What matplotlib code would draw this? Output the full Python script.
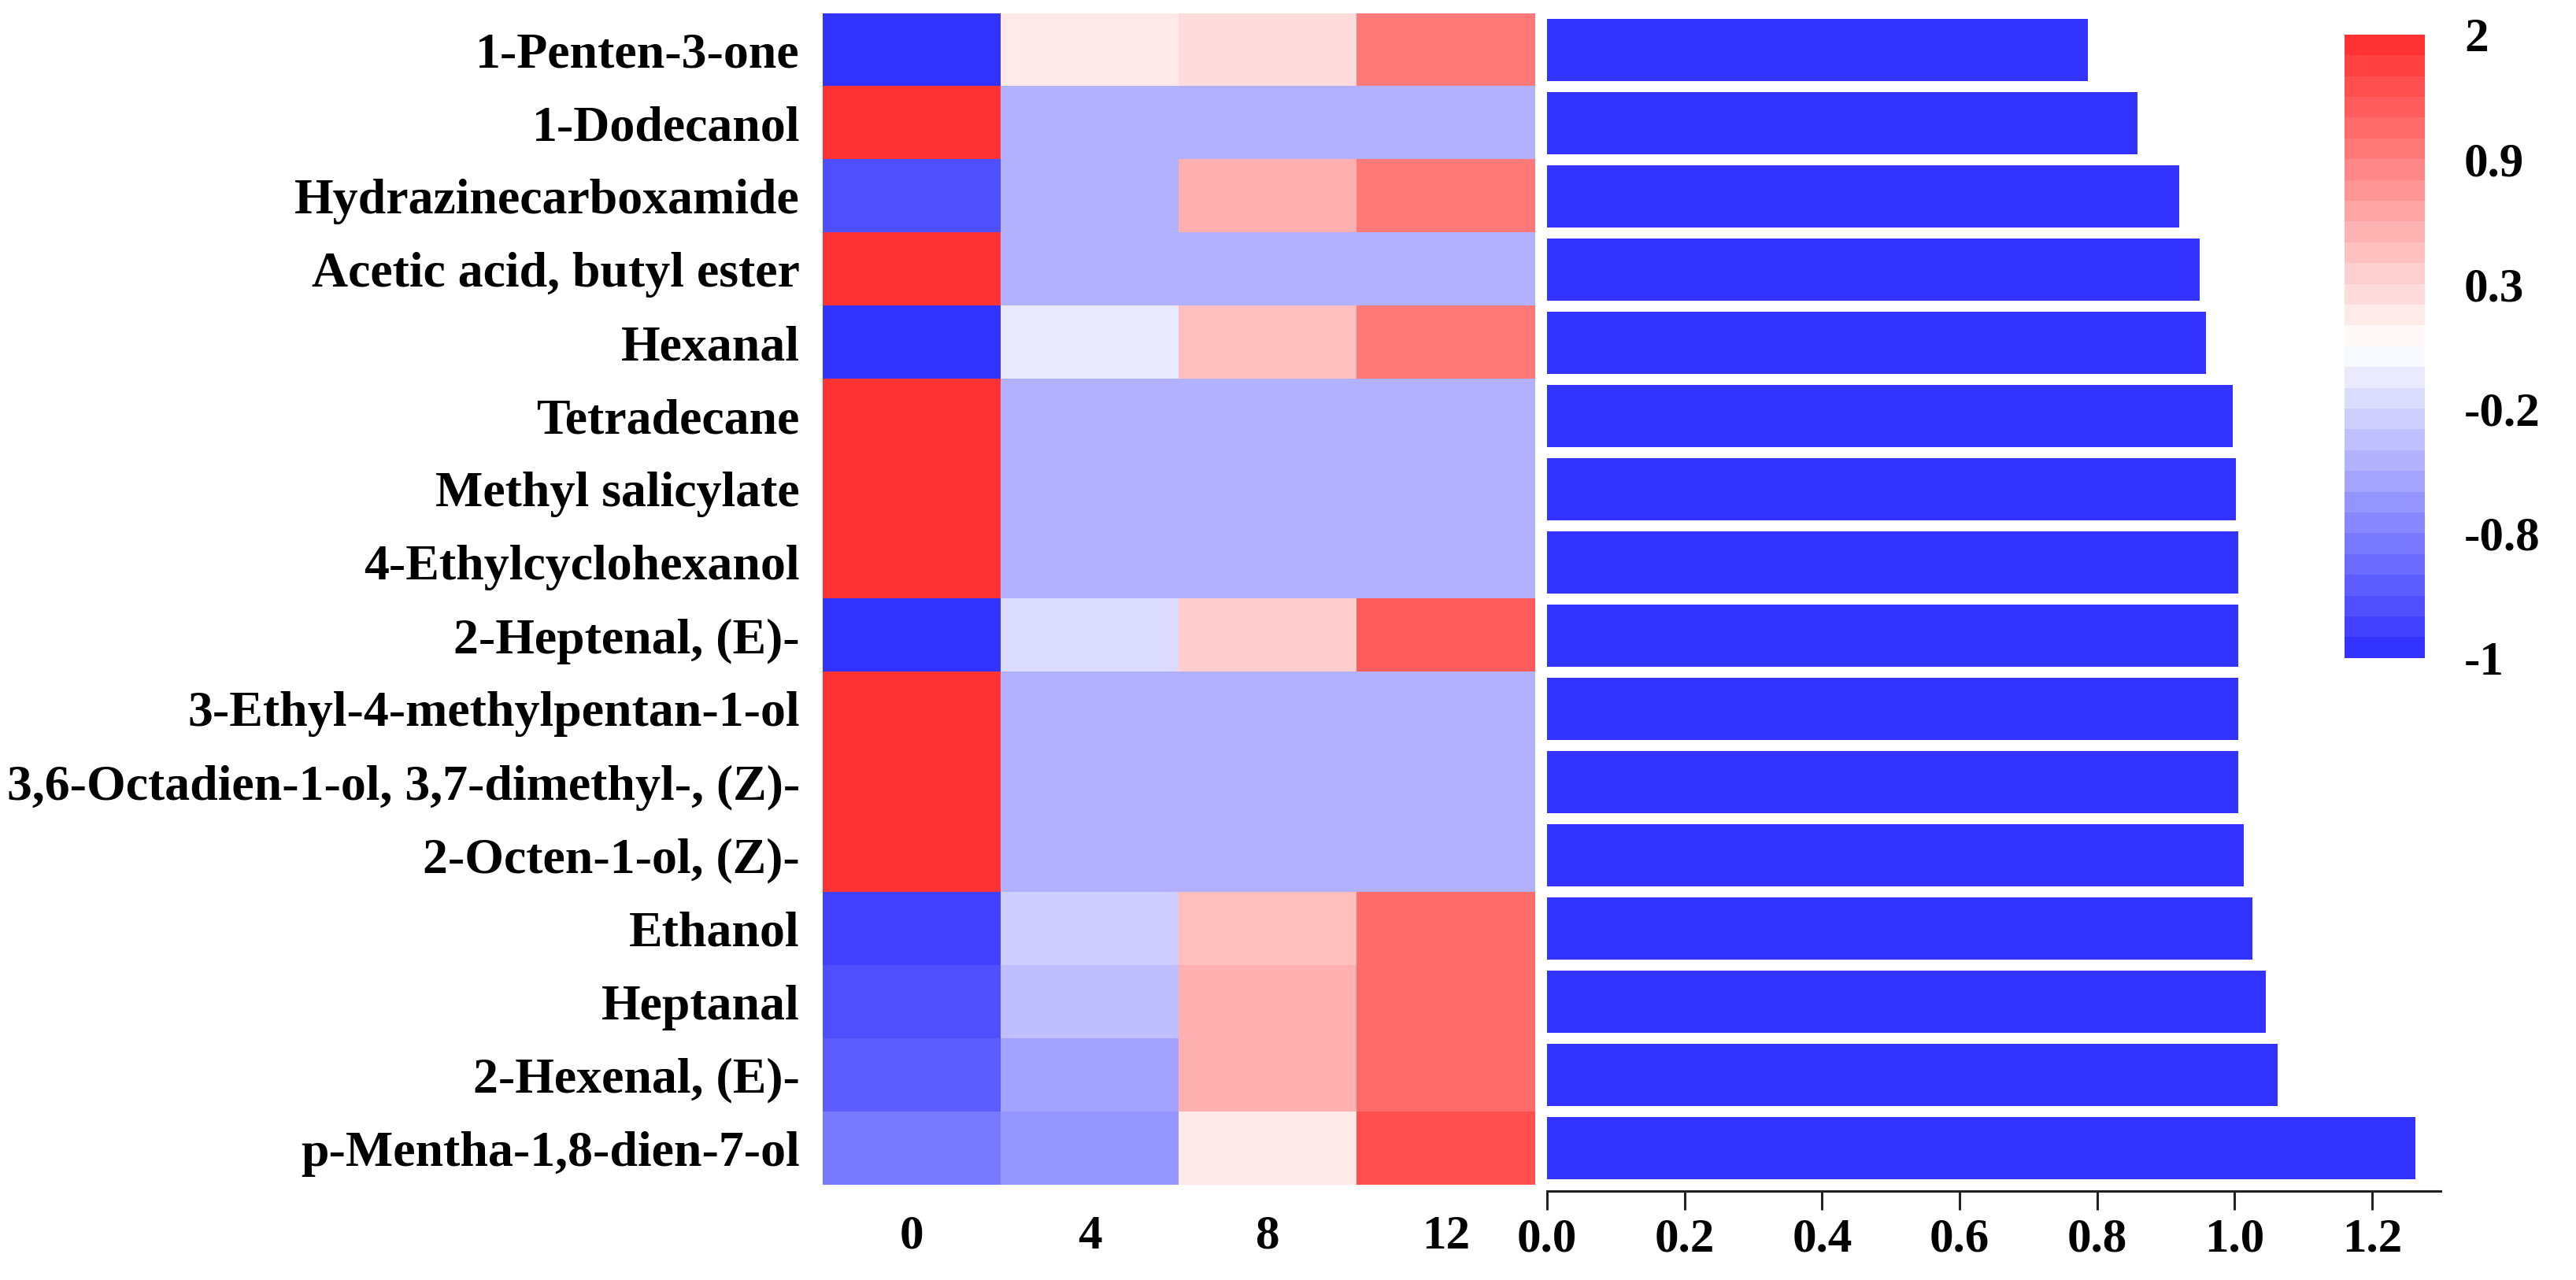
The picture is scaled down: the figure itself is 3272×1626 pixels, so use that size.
import matplotlib
matplotlib.use("Agg")
import matplotlib.pyplot as plt
from matplotlib.colors import LinearSegmentedColormap, FuncNorm
import numpy as np

# compounds, top to bottom
compuestos = [
    "1-Penten-3-one",
    "1-Dodecanol",
    "Hydrazinecarboxamide",
    "Acetic acid, butyl ester",
    "Hexanal",
    "Tetradecane",
    "Methyl salicylate",
    "4-Ethylcyclohexanol",
    "2-Heptenal, (E)-",
    "3-Ethyl-4-methylpentan-1-ol",
    "3,6-Octadien-1-ol, 3,7-dimethyl-, (Z)-",
    "2-Octen-1-ol, (Z)-",
    "Ethanol",
    "Heptanal",
    "2-Hexenal, (E)-",
    "p-Mentha-1,8-dien-7-ol",
]

dias = ["0", "4", "8", "12"]

# heatmap values (columns 0, 4, 8, 12)
dia0 = [-1.00, 2.00, -0.93, 2.00, -1.00, 2.00, 2.00, 2.00, -0.97, 2.00, 2.00, 2.00, -0.96, -0.93, -0.90, -0.83]
dia4 = [0.19, -0.48, -0.48, -0.48, -0.09, -0.48, -0.48, -0.48, -0.19, -0.48, -0.48, -0.48, -0.22, -0.36, -0.57, -0.68]
dia8 = [0.26, -0.48, 0.58, -0.48, 0.46, -0.48, -0.48, -0.48, 0.37, -0.48, -0.48, -0.48, 0.46, 0.58, 0.58, 0.19]
dia12 = [1.07, -0.48, 1.07, -0.48, 1.07, -0.48, -0.48, -0.48, 1.31, -0.48, -0.48, -0.48, 1.24, 1.24, 1.24, 1.61]

# bar values
barras = [0.787, 0.859, 0.920, 0.949, 0.958, 0.997, 1.002, 1.006, 1.006, 1.006,
          1.006, 1.013, 1.026, 1.045, 1.063, 1.263]
barras_ticks = [0.0, 0.2, 0.4, 0.6, 0.8, 1.0, 1.2]

# colour scale labels (evenly spaced on the bar)
escala_val = [-1, -0.8, -0.2, 0.3, 0.9, 2]
escala_txt = ["-1", "-0.8", "-0.2", "0.3", "0.9", "2"]

datos = np.array([dia0, dia4, dia8, dia12]).T
pos = np.linspace(0, 1, len(escala_val))

def adelante(x):
    return np.interp(x, escala_val, pos)

def atras(x):
    return np.interp(x, pos, escala_val)

norma = FuncNorm((adelante, atras), vmin=-1, vmax=2)
cmap = LinearSegmentedColormap.from_list("azul_rojo", ["#3333FF", "#FFFFFF", "#FF3333"], N=30)

plt.rcParams["font.family"] = ["Liberation Serif", "DejaVu Serif"]
plt.rcParams["font.weight"] = "bold"

fig = plt.figure(figsize=(32.73, 16.26), dpi=100)

# heatmap
ax1 = fig.add_axes([0.3193, 0.0744, 0.2765, 0.9152])
im = ax1.imshow(datos, cmap=cmap, norm=norma, aspect="auto", interpolation="nearest")
ax1.set_yticks(range(len(compuestos)))
ax1.set_yticklabels(compuestos, fontsize=46, fontweight="bold")
ax1.set_xticks(range(len(dias)))
ax1.set_xticklabels(dias, fontsize=44, fontweight="bold")
ax1.tick_params(axis="y", length=0, pad=21)
ax1.tick_params(axis="x", length=0, pad=27)
for s in ax1.spines.values():
    s.set_visible(False)

# bars
ax2 = fig.add_axes([0.6004, 0.0744, 0.3468, 0.9152])
for s in ["top", "right", "left"]:
    ax2.spines[s].set_visible(False)
ax2.spines["bottom"].set_position(("outward", 6))
ax2.spines["bottom"].set_linewidth(2.2)
ax2.spines["bottom"].set_color("#222222")
ax2.barh(range(len(barras)), barras, height=0.85, color="#3333FF")
ax2.set_ylim(len(barras) - 0.5, -0.5)
ax2.set_xlim(0, 1.30)
ax2.set_xticks(barras_ticks)
ax2.set_xticklabels(["%.1f" % v for v in barras_ticks])
ax2.set_yticks([])
ax2.tick_params(axis="x", length=17, width=2.2, color="#222222", pad=7, labelsize=44)
for t in ax2.get_xticklabels():
    t.set_fontweight("bold")

# colour bar
cax = fig.add_axes([0.910, 0.486, 0.031, 0.487])
cb = fig.colorbar(im, cax=cax)
cb.set_ticks(escala_val)
cb.set_ticklabels(escala_txt)
cb.outline.set_visible(False)
cax.tick_params(length=0, pad=36, labelsize=44)
for t in cax.get_yticklabels():
    t.set_fontweight("bold")

fig.savefig("out.png", dpi=100)
